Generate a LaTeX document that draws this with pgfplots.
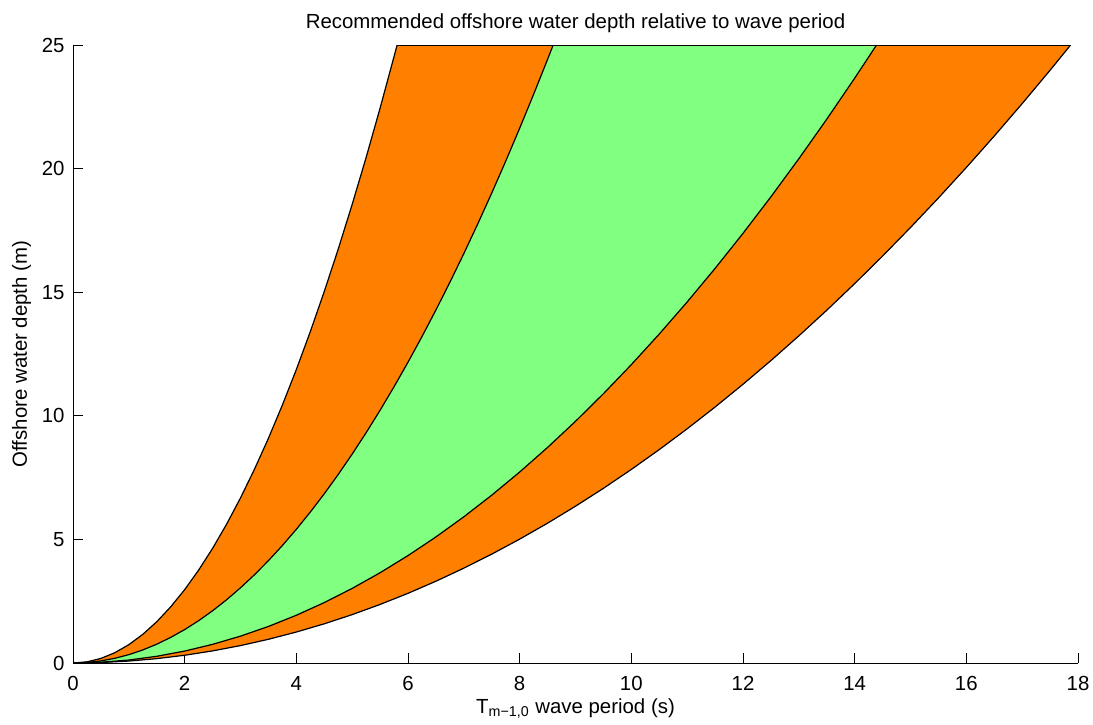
\documentclass[border=0pt]{standalone}
\usepackage{fontspec}
\setmainfont{Liberation Sans}
\usepackage{pgfplots}
\usepackage{pgfplotstable}
\pgfplotsset{compat=1.18}
\usepgfplotslibrary{fillbetween}
\definecolor{myorange}{RGB}{255,128,0}
\definecolor{mygreen}{RGB}{128,255,128}

\pgfplotstableread{
T y
0 0
0.25 0.0464
0.5 0.1855
0.75 0.4174
1.0 0.742
1.25 1.1594
1.5 1.6695
1.75 2.2724
2.0 2.968
2.25 3.7564
2.5 4.6375
2.75 5.6114
3.0 6.678
3.25 7.8374
3.5 9.0895
3.75 10.4344
4.0 11.872
4.25 13.4024
4.5 15.0255
4.75 16.7414
5.0 18.55
5.25 20.4514
5.5 22.4455
5.75 24.5324
5.805 25
}\curveA

\pgfplotstableread{
T y
0 0
0.25 0.0211
0.5 0.0845
0.75 0.1901
1.0 0.338
1.25 0.5281
1.5 0.7605
1.75 1.0351
2.0 1.352
2.25 1.7111
2.5 2.1125
2.75 2.5561
3.0 3.042
3.25 3.5701
3.5 4.1405
3.75 4.7531
4.0 5.408
4.25 6.1051
4.5 6.8445
4.75 7.6261
5.0 8.45
5.25 9.3161
5.5 10.2245
5.75 11.1751
6.0 12.168
6.25 13.2031
6.5 14.2805
6.75 15.4001
7.0 16.562
7.25 17.7661
7.5 19.0125
7.75 20.3011
8.0 21.632
8.25 23.0051
8.5 24.4205
8.6 25
}\curveB

\pgfplotstableread{
T y
0 0
0.5 0.0302
1.0 0.1207
1.5 0.2716
2.0 0.4828
2.5 0.7544
3.0 1.0863
3.5 1.4786
4.0 1.9312
4.5 2.4442
5.0 3.0175
5.5 3.6512
6.0 4.3452
6.5 5.0996
7.0 5.9143
7.5 6.7894
8.0 7.7248
8.5 8.7206
9.0 9.7767
9.5 10.8932
10.0 12.07
10.5 13.3072
11.0 14.6047
11.5 15.9626
12.0 17.3808
12.5 18.8594
13.0 20.3983
13.5 21.9976
14.0 23.6572
14.392 25
}\curveC

\pgfplotstableread{
T y
0 0
0.5 0.0196
1.0 0.0783
1.5 0.1762
2.0 0.3132
2.5 0.4894
3.0 0.7047
3.5 0.9592
4.0 1.2528
4.5 1.5856
5.0 1.9575
5.5 2.3686
6.0 2.8188
6.5 3.3082
7.0 3.8367
7.5 4.4044
8.0 5.0112
8.5 5.6572
9.0 6.3423
9.5 7.0666
10.0 7.83
10.5 8.6326
11.0 9.4743
11.5 10.3552
12.0 11.2752
12.5 12.2344
13.0 13.2327
13.5 14.2702
14.0 15.3468
14.5 16.4626
15.0 17.6175
15.5 18.8116
16.0 20.0448
16.5 21.3172
17.0 22.6287
17.5 23.9794
17.868 25
}\curveD

\begin{document}
\begin{tikzpicture}
\begin{axis}[
  name=ax,
  scale only axis,
  width=502.5pt, height=309pt,
  xmin=0, xmax=18, ymin=0, ymax=25,
  axis x line=bottom, axis y line=left,
  axis line style={-, line width=0.5pt, black},
  tick align=inside,
  major tick length=5pt,
  tick style={black, line width=0.5pt},
  xtick={0,2,...,18}, ytick={0,5,...,25},
  /pgf/number format/assume math mode=true,
  tick label style={font=\fontsize{10.2}{12}\selectfont},
  xticklabel style={yshift=-3pt},
  yticklabel style={xshift=-0.7pt},
  every axis title shift=0pt,
  title={Recommended offshore water depth relative to wave period},
  title style={at={(0.5,1.0259)}, anchor=base, yshift=0pt, font=\fontsize{10.2}{12}\selectfont},
  xlabel={T\textsubscript{m−1,0} wave period (s)},
  xlabel style={at={(0.5,-0.081)}, anchor=base, font=\fontsize{10.2}{12}\selectfont},
  ylabel={Offshore water depth (m)},
  ylabel style={at={(-0.0458,0.5)}, anchor=base, font=\fontsize{10.2}{12}\selectfont},
]
\addplot[draw=none, name path=c1, forget plot] table[x=T,y=y] {\curveA};
\addplot[draw=none, name path=c2, forget plot] table[x=T,y=y] {\curveB};
\addplot[draw=none, name path=c3, forget plot] table[x=T,y=y] {\curveC};
\addplot[draw=none, name path=c4, forget plot] table[x=T,y=y] {\curveD};
\addplot[fill=myorange, draw=none] fill between[of=c1 and c2];
\addplot[fill=mygreen, draw=none] fill between[of=c2 and c3];
\addplot[fill=myorange, draw=none] fill between[of=c3 and c4];
\addplot[black, line width=0.6pt] table[x=T,y=y] {\curveA};
\addplot[black, line width=0.6pt] table[x=T,y=y] {\curveB};
\addplot[black, line width=0.6pt] table[x=T,y=y] {\curveC};
\addplot[black, line width=0.6pt] table[x=T,y=y] {\curveD};
\addplot[black, line width=0.6pt] coordinates {(5.805,25) (17.868,25)};
\end{axis}
\pgfresetboundingbox
\path[use as bounding box] ([shift={(-36.5pt,-30.5pt)}]ax.south west) rectangle ([shift={(7.5pt,22.5pt)}]ax.north east);
\end{tikzpicture}
\end{document}
